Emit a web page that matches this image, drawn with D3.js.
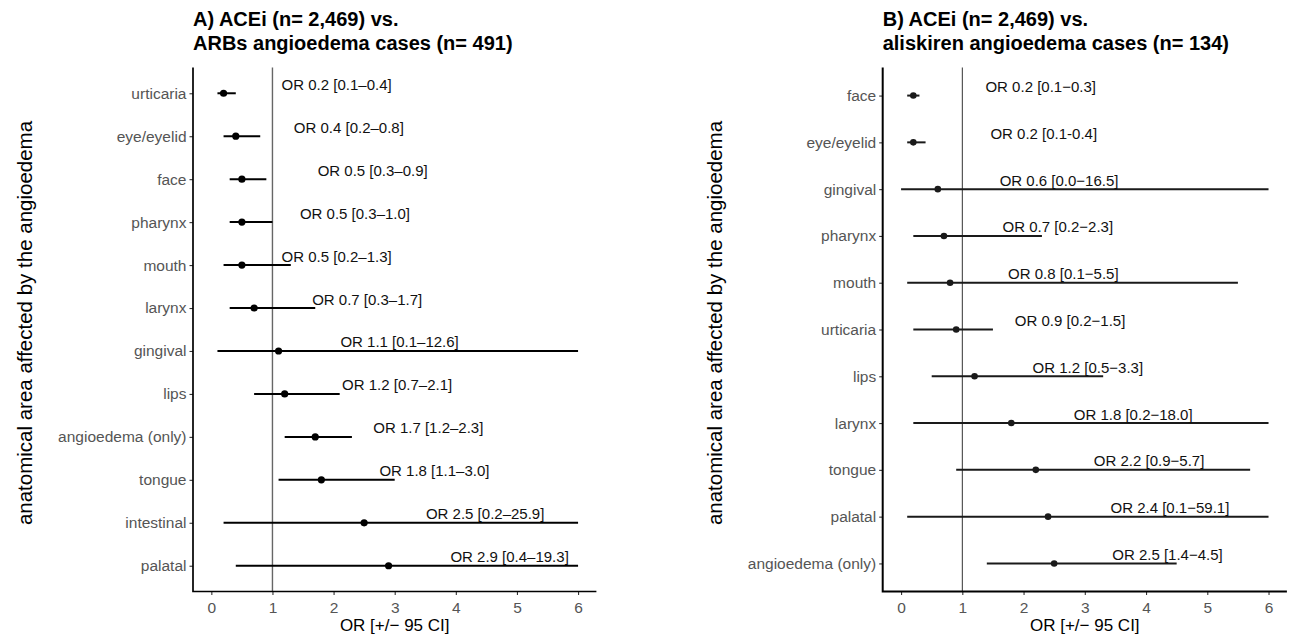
<!DOCTYPE html>
<html>
<head>
<meta charset="utf-8">
<script src="https://cdn.jsdelivr.net/npm/d3@7"></script>
<style>
  html, body { margin: 0; padding: 0; background: #fff; }
  svg { display: block; font-family: "Liberation Sans", Arial, Helvetica, sans-serif; }
</style>
</head>
<body>
<svg id="chart" width="1291" height="636"></svg>
<script>
// ---------- data: panel A (ACEi vs ARBs) ----------
const rowsA = ["urticaria", "eye/eyelid", "face", "pharynx", "mouth", "larynx",
  "gingival", "lips", "angioedema (only)", "tongue", "intestinal", "palatal"];
const orA = [0.2, 0.4, 0.5, 0.5, 0.5, 0.7, 1.1, 1.2, 1.7, 1.8, 2.5, 2.9];
const loA = [0.1, 0.2, 0.3, 0.3, 0.2, 0.3, 0.1, 0.7, 1.2, 1.1, 0.2, 0.4];
const hiA = [0.4, 0.8, 0.9, 1.0, 1.3, 1.7, 12.6, 2.1, 2.3, 3.0, 25.9, 19.3];
// where each OR label sits (centre, OR units), as placed in the original
const labelAtA = [2.05, 2.25, 2.64, 2.35, 2.05, 2.55, 3.08, 3.04, 3.55, 3.65, 4.48, 4.88];
const textA = ["OR 0.2 [0.1–0.4]", "OR 0.4 [0.2–0.8]", "OR 0.5 [0.3–0.9]", "OR 0.5 [0.3–1.0]",
  "OR 0.5 [0.2–1.3]", "OR 0.7 [0.3–1.7]", "OR 1.1 [0.1–12.6]", "OR 1.2 [0.7–2.1]",
  "OR 1.7 [1.2–2.3]", "OR 1.8 [1.1–3.0]", "OR 2.5 [0.2–25.9]", "OR 2.9 [0.4–19.3]"];

// ---------- data: panel B (ACEi vs aliskiren) ----------
const rowsB = ["face", "eye/eyelid", "gingival", "pharynx", "mouth", "urticaria",
  "lips", "larynx", "tongue", "palatal", "angioedema (only)"];
const orB = [0.2, 0.2, 0.6, 0.7, 0.8, 0.9, 1.2, 1.8, 2.2, 2.4, 2.5];
const loB = [0.1, 0.1, 0.0, 0.2, 0.1, 0.2, 0.5, 0.2, 0.9, 0.1, 1.4];
const hiB = [0.3, 0.4, 16.5, 2.3, 5.5, 1.5, 3.3, 18.0, 5.7, 59.1, 4.5];
const labelAtB = [2.28, 2.33, 2.58, 2.56, 2.65, 2.76, 3.05, 3.79, 4.05, 4.39, 4.35];
const textB = ["OR 0.2 [0.1−0.3]", "OR 0.2 [0.1-0.4]", "OR 0.6 [0.0−16.5]", "OR 0.7 [0.2−2.3]",
  "OR 0.8 [0.1−5.5]", "OR 0.9 [0.2−1.5]", "OR 1.2 [0.5−3.3]", "OR 1.8 [0.2−18.0]",
  "OR 2.2 [0.9−5.7]", "OR 2.4 [0.1−59.1]", "OR 2.5 [1.4−4.5]"];

const xTicks = [0, 1, 2, 3, 4, 5, 6];
const X_LIMIT = 6; // CIs are cut at the axis limit

const svg = d3.select("#chart");
const TOP = 67.5, BOTTOM = 591.5;

function drawPanel(p) {
  const g = svg.append("g");
  const x = d3.scaleLinear().domain([-0.3, 6.3]).range([p.left, p.right]);
  const y = d3.scalePoint().domain(p.rows).range([TOP, BOTTOM]).padding(0.6);

  const d = p.rows.map((r, i) => ({ r, or: p.or[i], lo: p.lo[i], hi: p.hi[i], at: p.labelAt[i], t: p.text[i] }));

  // reference line at OR = 1
  g.append("line")
    .attr("x1", x(1)).attr("x2", x(1)).attr("y1", TOP).attr("y2", BOTTOM)
    .attr("stroke", p.refColor).attr("stroke-width", p.refWidth);

  g.selectAll("line.ci").data(d).join("line").attr("class", "ci")
    .attr("x1", (v) => x(v.lo)).attr("x2", (v) => x(Math.min(v.hi, X_LIMIT)))
    .attr("y1", (v) => y(v.r)).attr("y2", (v) => y(v.r))
    .attr("stroke", p.ink).attr("stroke-width", 2);

  g.selectAll("circle.pt").data(d).join("circle").attr("class", "pt")
    .attr("cx", (v) => x(v.or)).attr("cy", (v) => y(v.r)).attr("r", p.dot)
    .attr("fill", p.ink);

  g.selectAll("text.lab").data(d).join("text").attr("class", "lab")
    .attr("x", (v) => x(v.at)).attr("y", (v) => y(v.r) - 3.5)
    .attr("text-anchor", "middle").attr("font-size", 15).attr("fill", "#111")
    .text((v) => v.t);

  // axes
  const ax = g.append("g").attr("transform", `translate(0,${BOTTOM})`)
    .call(d3.axisBottom(x).tickValues(xTicks).tickFormat(d3.format("d")).tickSize(3.5).tickSizeOuter(0).tickPadding(6.5));
  const ay = g.append("g").attr("transform", `translate(${p.left},0)`)
    .call(d3.axisLeft(y).tickSize(3.5).tickSizeOuter(0).tickPadding(3));
  [ax, ay].forEach((a) => {
    a.select(".domain").remove();
    a.selectAll(".tick line").attr("stroke", "#333").attr("stroke-width", 1.1);
    a.selectAll(".tick text").attr("fill", "#555").attr("font-size", 15.5).attr("font-family", null);
  });
  g.append("path")
    .attr("d", `M${p.left},${TOP}V${BOTTOM}H${p.right}`)
    .attr("fill", "none").attr("stroke", "#000").attr("stroke-width", p.axisWidth)
    .attr("stroke-linejoin", "miter");

  // titles
  const tt = g.append("text").attr("x", p.left).attr("font-size", 20).attr("font-weight", "bold").attr("fill", "#000");
  tt.append("tspan").attr("x", p.left).attr("y", 26).text(p.title[0]);
  tt.append("tspan").attr("x", p.left).attr("y", 50).text(p.title[1]);

  g.append("text").attr("x", (p.left + p.right) / 2).attr("y", 631)
    .attr("text-anchor", "middle").attr("font-size", 17).attr("fill", "#000")
    .text("OR [+/− 95 CI]");

  g.append("text").attr("transform", `translate(${p.yTitleX},323) rotate(-90)`)
    .attr("text-anchor", "middle").attr("font-size", 20.5).attr("fill", "#000")
    .text("anatomical area affected by the angioedema");
}

drawPanel({
  rows: rowsA, or: orA, lo: loA, hi: hiA, labelAt: labelAtA, text: textA,
  left: 193, right: 596.4, yTitleX: 32,
  title: ["A) ACEi (n= 2,469) vs.", "ARBs angioedema cases (n= 491)"],
  ink: "#000", dot: 3.6, refColor: "#666", refWidth: 1.4, axisWidth: 1.7
});

drawPanel({
  rows: rowsB, or: orB, lo: loB, hi: hiB, labelAt: labelAtB, text: textB,
  left: 882.7, right: 1286.9, yTitleX: 722,
  title: ["B) ACEi (n= 2,469) vs.", "aliskiren angioedema cases (n= 134)"],
  ink: "#1a1a1a", dot: 3.3, refColor: "#333", refWidth: 1, axisWidth: 2
});
</script>
</body>
</html>
